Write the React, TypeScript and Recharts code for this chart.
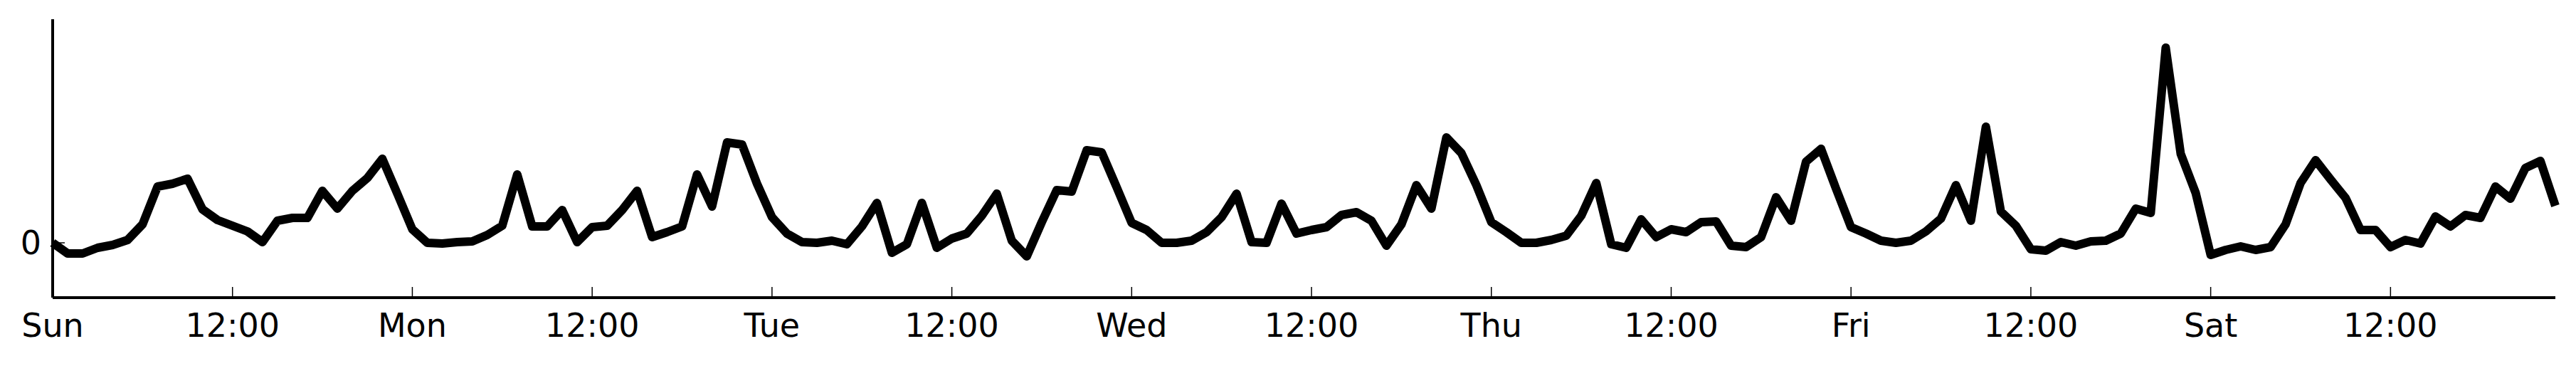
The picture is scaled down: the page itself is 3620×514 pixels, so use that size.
import { LineChart, Line, XAxis, YAxis } from 'recharts'

// hourly values over one week, Sun 00:00 .. Sat 23:00
const values = [
    0.00, -0.15, -0.15, -0.07, -0.03, 0.04, 0.26, 0.79, 0.83, 0.90, 0.47, 0.32,
    0.24, 0.16, 0.01, 0.31, 0.35, 0.35, 0.73, 0.48, 0.73, 0.91, 1.18, 0.69,
    0.19, 0.00, -0.01, 0.01, 0.02, 0.11, 0.24, 0.96, 0.23, 0.23, 0.46, 0.01,
    0.22, 0.24, 0.46, 0.73, 0.08, 0.15, 0.23, 0.96, 0.51, 1.41, 1.38, 0.83,
    0.36, 0.13, 0.01, 0.00, 0.03, -0.02, 0.23, 0.56, -0.14, -0.02, 0.56, -0.07,
    0.06, 0.13, 0.38, 0.69, 0.03, -0.19, 0.29, 0.74, 0.72, 1.30, 1.27, 0.78,
    0.28, 0.18, 0.00, 0.00, 0.03, 0.15, 0.36, 0.69, 0.01, 0.00, 0.55, 0.13,
    0.18, 0.22, 0.39, 0.43, 0.31, -0.04, 0.26, 0.81, 0.48, 1.48, 1.26, 0.81,
    0.29, 0.15, 0.00, 0.00, 0.04, 0.10, 0.38, 0.84, -0.02, -0.07, 0.33, 0.08,
    0.19, 0.15, 0.29, 0.30, -0.04, -0.06, 0.08, 0.64, 0.31, 1.14, 1.32, 0.76,
    0.22, 0.13, 0.03, 0.00, 0.03, 0.16, 0.34, 0.81, 0.31, 1.63, 0.44, 0.24,
    -0.09, -0.11, 0.01, -0.04, 0.02, 0.03, 0.13, 0.48, 0.42, 2.74, 1.25, 0.70,
    -0.17, -0.10, -0.05, -0.10, -0.06, 0.26, 0.84, 1.16, 0.89, 0.63, 0.18, 0.18,
    -0.06, 0.04, -0.01, 0.37, 0.23, 0.39, 0.35, 0.79, 0.62, 1.05, 1.15, 0.52,
]

const tickHours = [0, 12, 24, 36, 48, 60, 72, 84, 96, 108, 120, 132, 144, 156]
const tickLabels = ['Sun', '12:00', 'Mon', '12:00', 'Tue', '12:00', 'Wed', '12:00', 'Thu', '12:00', 'Fri', '12:00', 'Sat', '12:00']
const yTicks = [0]

const data = values.map((v, i) => ({ hour: i, value: v }))

const FONT = '"DejaVu Sans", sans-serif'

// ticks point inward, like the original
const XTick = ({ x, y, payload }: any) => {
    const idx = tickHours.indexOf(payload.value)
    return (
        <g>
            <line x1={x} y1={y - 15} x2={x} y2={y} stroke="#000" strokeWidth={1.5} />
            <text x={x} y={y + 55} textAnchor="middle" fontFamily={FONT} fontSize={46} fill="#000">
                {idx >= 0 ? tickLabels[idx] : ''}
            </text>
        </g>
    )
}

const YTick = ({ x, y, payload }: any) => (
    <g>
        <line x1={x} y1={y} x2={x + 17} y2={y} stroke="#000" strokeWidth={1.5} />
        <text x={x - 16} y={y} dy="0.355em" textAnchor="end" fontFamily={FONT} fontSize={46} fill="#000">
            {payload.value}
        </text>
    </g>
)

export default function App() {
    return (
        <div style={{ position: 'absolute', left: 0, top: 0, width: 3620, height: 514, background: '#fff' }}>
            <LineChart width={3620} height={514} data={data} margin={{ top: 27, right: 29, bottom: 0, left: 0 }}>
                <XAxis
                    type="number"
                    dataKey="hour"
                    domain={[0, 167]}
                    ticks={tickHours}
                    height={96}
                    tickSize={0}
                    tickMargin={0}
                    tickLine={false}
                    axisLine={{ stroke: '#000', strokeWidth: 4 }}
                    tick={<XTick />}
                    interval={0}
                />
                <YAxis
                    type="number"
                    domain={[-0.77, 3.14]}
                    ticks={yTicks}
                    width={74}
                    tickSize={0}
                    tickMargin={0}
                    tickLine={false}
                    axisLine={{ stroke: '#000', strokeWidth: 4 }}
                    tick={<YTick />}
                    interval={0}
                />
                <Line
                    type="linear"
                    dataKey="value"
                    stroke="#000"
                    strokeWidth={12}
                    strokeLinejoin="round"
                    strokeLinecap="butt"
                    dot={false}
                    activeDot={false}
                    isAnimationActive={false}
                />
            </LineChart>
        </div>
    )
}
